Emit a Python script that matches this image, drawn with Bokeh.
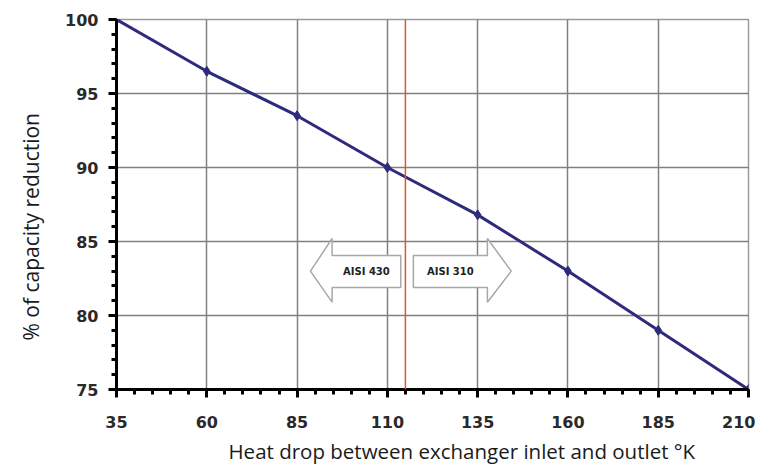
from bokeh.plotting import figure
from bokeh.models import FixedTicker, Range1d, Span, Label, Title
from bokeh.embed import file_html
from bokeh.resources import INLINE

# data
heat_drop = [35, 60, 85, 110, 135, 160, 185, 210]
capacity = [100, 96.5, 93.5, 90, 86.8, 83, 79, 75]
x_ticks = [35, 60, 85, 110, 135, 160, 185, 210]
y_ticks = [75, 80, 85, 90, 95, 100]
limit_x = 115
arrow_labels = ["AISI 430", "AISI 310"]
x_title = "Heat drop between exchanger inlet and outlet °K"
y_title = "% of capacity reduction"

# arrow geometry (annotation, data units)
tip_l, base_l, end_l = 88.7, 94.7, 113.7
start_r, base_r, tip_r = 117.2, 137.7, 144.3
y_mid, head_top, head_bot, body_top, body_bot = 83.0, 85.2, 80.9, 84.05, 81.9

p = figure(width=755, height=470, output_backend="svg", toolbar_location=None,
           x_range=Range1d(35, 210), y_range=Range1d(75, 100),
           min_border_left=116, min_border_right=7, min_border_top=19, min_border_bottom=81)
p.background_fill_color = "white"
p.border_fill_color = "white"
p.outline_line_color = "#9a9a9a"
p.outline_line_width = 1.5

xt = FixedTicker(ticks=x_ticks, minor_ticks=list(range(35, 211, 5)))
yt = FixedTicker(ticks=y_ticks, minor_ticks=list(range(75, 101, 1)))
p.xaxis.ticker = xt
p.yaxis.ticker = yt
p.xgrid.ticker = xt
p.ygrid.ticker = yt
for g in (p.xgrid, p.ygrid):
    g.grid_line_color = "#808080"
    g.grid_line_width = 1.5

for ax in (p.xaxis, p.yaxis):
    ax.axis_line_color = "black"
    ax.axis_line_width = 3
    ax.major_tick_line_color = "black"
    ax.major_tick_line_width = 3
    ax.minor_tick_line_color = "black"
    ax.minor_tick_line_width = 3
    ax.major_tick_in = 0
    ax.major_tick_out = 8
    ax.minor_tick_in = 0
    ax.minor_tick_out = 5
    ax.major_label_text_font = "DejaVu Sans"
    ax.major_label_text_font_style = "bold"
    ax.major_label_text_font_size = "16px"
    ax.major_label_text_color = "#2a2a2a"

p.xaxis.major_label_standoff = 18
p.yaxis.major_label_standoff = 10

# axis titles as side titles (shifted from the frame centre as in the original)
p.add_layout(Title(text=x_title, align="left", offset=112, standoff=8,
                   text_font="Open Sans", text_font_style="normal", text_font_size="20.5px",
                   text_color="#1a1a1a"), "below")
p.add_layout(Title(text=y_title, align="left", offset=49, standoff=32, vertical_align="top",
                   text_font="Open Sans", text_font_style="normal", text_font_size="21px",
                   text_color="#1a1a1a"), "left")

# arrows
p.patch([tip_l, base_l, base_l, end_l, end_l, base_l, base_l],
        [y_mid, head_top, body_top, body_top, body_bot, body_bot, head_bot],
        fill_color="white", line_color="#a8a8a8", line_width=1.5)
p.patch([start_r, base_r, base_r, tip_r, base_r, base_r, start_r],
        [body_top, body_top, head_top, y_mid, head_bot, body_bot, body_bot],
        fill_color="white", line_color="#a8a8a8", line_width=1.5)
for lab, cx in zip(arrow_labels, [(base_l + end_l) / 2, (start_r + base_r) / 2]):
    p.add_layout(Label(x=cx, y=y_mid, text=lab, text_align="center", text_baseline="middle",
                       text_font="DejaVu Sans", text_font_style="bold", text_font_size="10px",
                       text_color="#222222"))

p.add_layout(Span(location=limit_x, dimension="height", line_color="#e8502e", line_width=1.5))

p.line(heat_drop, capacity, line_color="#2e2b7c", line_width=3)
p.scatter(heat_drop, capacity, marker="diamond", size=10, color="#2e2b7c")

open("out.html", "w").write(file_html(p, INLINE))
